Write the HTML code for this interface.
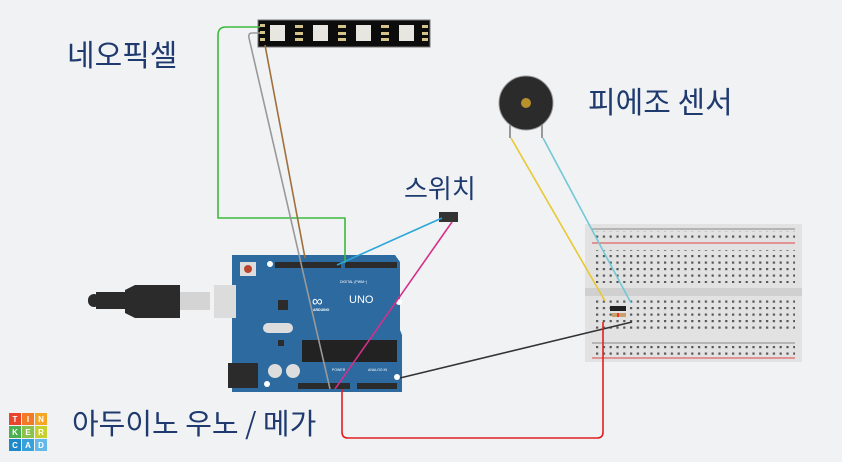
<!DOCTYPE html>
<html><head><meta charset="utf-8"><style>
html,body{margin:0;padding:0;background:#f1f2f4;}
svg{display:block}
text{font-family:"Liberation Sans","Noto Sans CJK KR",sans-serif;}
.lbl{fill:#1e3a6e;font-size:30px;font-family:"Noto Sans CJK KR",sans-serif;}
</style></head><body>
<svg width="842" height="462" viewBox="0 0 842 462" xmlns="http://www.w3.org/2000/svg">
<rect width="842" height="462" fill="#f1f2f4"/>
<!-- labels -->
<text class="lbl" x="67" y="66">네오픽셀</text>
<text class="lbl" x="588" y="113">피에조 센서</text>
<text class="lbl" x="404" y="198" style="font-size:26px">스위치</text>
<text class="lbl" x="72" y="434" style="font-size:29px">아두이노 우노 / 메가</text>
<!-- tinkercad logo -->
<g font-size="8" font-weight="bold" fill="#fff" text-anchor="middle">
<rect x="9" y="413" width="12" height="12" fill="#e8452c"/><text x="15" y="422">T</text>
<rect x="22" y="413" width="12" height="12" fill="#f27a24"/><text x="28" y="422">I</text>
<rect x="35" y="413" width="12" height="12" fill="#f5a623"/><text x="41" y="422">N</text>
<rect x="9" y="426" width="12" height="12" fill="#4caf50"/><text x="15" y="435">K</text>
<rect x="22" y="426" width="12" height="12" fill="#8bc34a"/><text x="28" y="435">E</text>
<rect x="35" y="426" width="12" height="12" fill="#c6d12e"/><text x="41" y="435">R</text>
<rect x="9" y="439" width="12" height="12" fill="#1e88c8"/><text x="15" y="448">C</text>
<rect x="22" y="439" width="12" height="12" fill="#3aa0dc"/><text x="28" y="448">A</text>
<rect x="35" y="439" width="12" height="12" fill="#64b9e8"/><text x="41" y="448">D</text>
</g>
<!-- LED strip -->
<rect x="258" y="20" width="172" height="27" fill="#0c0c0c" stroke="#777" stroke-width="1"/>
<g fill="#e8e6e0">
<rect x="270" y="25" width="15" height="16"/><rect x="313" y="25" width="15" height="16"/>
<rect x="356" y="25" width="15" height="16"/><rect x="399" y="25" width="15" height="16"/>
</g>
<g fill="#d4c48a">
<rect x="260" y="24" width="5" height="3"/><rect x="260" y="31" width="5" height="3"/><rect x="260" y="38" width="5" height="3"/>
<rect x="295" y="25" width="8" height="3"/><rect x="295" y="32" width="8" height="3"/><rect x="295" y="38" width="8" height="3"/>
<rect x="338" y="25" width="8" height="3"/><rect x="338" y="32" width="8" height="3"/><rect x="338" y="38" width="8" height="3"/>
<rect x="381" y="25" width="8" height="3"/><rect x="381" y="32" width="8" height="3"/><rect x="381" y="38" width="8" height="3"/>
<rect x="422" y="25" width="6" height="3"/><rect x="422" y="32" width="6" height="3"/><rect x="422" y="38" width="6" height="3"/>
</g>
<!-- buzzer -->
<line x1="510" y1="125" x2="510" y2="138" stroke="#999" stroke-width="2"/>
<line x1="542" y1="125" x2="542" y2="138" stroke="#999" stroke-width="2"/>
<circle cx="526" cy="103" r="27" fill="#2b2b2b" stroke="#999" stroke-width="1"/>
<circle cx="526" cy="103" r="5" fill="#b8902c"/>
<!-- breadboard -->
<rect x="585" y="224" width="217" height="138" fill="#e2e2e2"/>
<rect x="585" y="288" width="217" height="8" fill="#d0d0d0"/>
<line x1="592" y1="229" x2="795" y2="229" stroke="#888"/>
<line x1="592" y1="243" x2="795" y2="243" stroke="#d44"/>
<line x1="592" y1="343" x2="795" y2="343" stroke="#888"/>
<line x1="592" y1="358" x2="795" y2="358" stroke="#d44"/>
<g fill="#555">
<pattern id="h" x="595" y="0" width="6.8" height="6.5" patternUnits="userSpaceOnUse"><rect x="1" y="1.5" width="2.2" height="2.2" fill="#555"/></pattern>
</g>
<rect x="595" y="231" width="200" height="11" fill="url(#h)"/>
<rect x="595" y="250" width="200" height="33" fill="url(#h)"/>
<rect x="595" y="298" width="200" height="33" fill="url(#h)"/>
<rect x="595" y="345" width="200" height="11" fill="url(#h)"/>
<!-- resistor & component -->
<rect x="610" y="306" width="16" height="5" fill="#222"/>
<rect x="612" y="313" width="14" height="4" fill="#c9a26a"/>
<rect x="617" y="313" width="2" height="4" fill="#e33"/>
<!-- USB cable -->
<rect x="88" y="294" width="12" height="13" rx="6" fill="#2b2b2b"/>
<rect x="96" y="292" width="32" height="17" fill="#2b2b2b"/>
<path d="M125 290 L135 285 L180 285 L180 318 L135 318 L125 313 Z" fill="#2b2b2b"/>
<rect x="180" y="292" width="30" height="18" fill="#d4d4d4"/>
<!-- Arduino -->
<path d="M232 255 L395 255 L400 262 L400 330 L402 335 L402 392 L232 392 Z" fill="#2c6aa0"/>
<rect x="228" y="363" width="30" height="25" fill="#2b2b2b"/>
<rect x="214" y="285" width="22" height="33" fill="#dcdcdc"/>
<rect x="240" y="262" width="16" height="14" fill="#ddd"/><circle cx="248" cy="269" r="4" fill="#b8452e"/>
<rect x="275" y="262" width="66" height="6" fill="#2b2b2b"/>
<rect x="345" y="262" width="52" height="6" fill="#2b2b2b"/>
<text x="340" y="283" font-size="3.5" fill="#fff">DIGITAL (PWM~)</text>
<circle cx="270" cy="264" r="3" fill="#fff"/>
<circle cx="399" cy="302" r="3" fill="#fff"/>
<circle cx="267" cy="384" r="3" fill="#fff"/>
<circle cx="397" cy="377" r="3" fill="#fff"/>
<text x="312" y="306" font-size="15" fill="#fff">∞</text>
<text x="349" y="303" font-size="11" fill="#fff">UNO</text>
<text x="313" y="311" font-size="3.5" fill="#fff" font-weight="bold">ARDUINO</text>
<rect x="278" y="300" width="10" height="10" fill="#2b2b2b"/>
<rect x="263" y="323" width="30" height="10" rx="5" fill="#ddd"/>
<rect x="302" y="340" width="95" height="22" fill="#222"/>
<rect x="278" y="340" width="6" height="6" fill="#2b2b2b"/>
<circle cx="275" cy="371" r="7" fill="#ddd"/><circle cx="293" cy="371" r="7" fill="#ddd"/>
<rect x="298" y="383" width="52" height="6" fill="#2b2b2b"/>
<rect x="357" y="383" width="40" height="6" fill="#2b2b2b"/>
<text x="332" y="371" font-size="3.5" fill="#fff">POWER</text>
<text x="368" y="371" font-size="3.5" fill="#fff">ANALOG IN</text>
<!-- switch -->
<rect x="439" y="212" width="19" height="10" fill="#333"/>
<!-- wires -->
<g fill="none" stroke-width="1.6" stroke-linejoin="round">
<path d="M260 27 L226 27 Q218 27 218 35 L218 218 L345 218 L345 263" stroke="#3cba3c"/>
<path d="M260 33 L252 33 Q248 33 249 38 L330 389" stroke="#999"/>
<path d="M265 45 L305 258" stroke="#a0703a"/>
<path d="M442 218 L337 265" stroke="#2aa6d8"/>
<path d="M452 222 L335 389" stroke="#d4308a"/>
<path d="M511 138 L605 301" stroke="#e8c832"/>
<path d="M543 138 L631 303" stroke="#72c8d6"/>
<path d="M400 378 L632 322" stroke="#333"/>
<path d="M342 389 L342 432 Q342 438 348 438 L597 438 Q603 438 603 432 L603 322" stroke="#e02020"/>
</g>
</svg>
</body></html>
